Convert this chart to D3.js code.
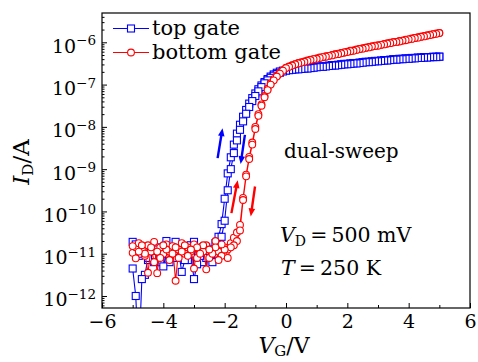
<!DOCTYPE html>
<html>
<head>
<meta charset="utf-8">
<script src="https://cdn.jsdelivr.net/npm/d3@7"></script>
<style>
  body { margin: 0; background: #fff; }
  text { font-family: "DejaVu Serif", serif; fill: #000; }
</style>
</head>
<body>
<div id="chart"></div>
<script>
// gate voltage steps of the sweep (V)
const vg = [-5.0,-4.9,-4.8,-4.7,-4.6,-4.5,-4.4,-4.3,-4.2,-4.1,-4.0,-3.9,-3.8,-3.7,-3.6,-3.5,-3.4,-3.3,-3.2,-3.1,
  -3.0,-2.9,-2.8,-2.7,-2.6,-2.5,-2.4,-2.3,-2.2,-2.1,-2.0,-1.9,-1.8,-1.7,-1.6,-1.5,-1.4,-1.3,-1.2,-1.1,
  -1.0,-0.9,-0.8,-0.7,-0.6,-0.5,-0.4,-0.3,-0.2,-0.1,0.0,0.1,0.2,0.3,0.4,0.5,0.6,0.7,0.8,0.9,
  1.0,1.1,1.2,1.3,1.4,1.5,1.6,1.7,1.8,1.9,2.0,2.1,2.2,2.3,2.4,2.5,2.6,2.7,2.8,2.9,
  3.0,3.1,3.2,3.3,3.4,3.5,3.6,3.7,3.8,3.9,4.0,4.1,4.2,4.3,4.4,4.5,4.6,4.7,4.8,4.9,5.0];

// log10(I_D / A), forward sweep (-5 -> 5) and backward sweep (5 -> -5), indexed like vg
const topFwd = [-10.72,-10.78,-11.05,-11.0,-10.9,-11.15,-10.95,-11.1,-10.85,-11.2,
  -10.9,-10.7,-11.05,-10.95,-10.72,-11.1,-10.9,-11.0,-11.15,-10.8,
  -10.72,-11.1,-10.95,-11.2,-10.85,-11.05,-10.9,-10.75,-10.6,-10.3,
  -9.7,-9.1,-8.72,-8.42,-8.16,-7.95,-7.76,-7.6,-7.45,-7.32,
  -7.21,-7.11,-7.02,-6.94,-6.87,-6.81,-6.76,-6.72,-6.69,-6.67,-6.66,
  -6.65,-6.64,-6.63,-6.63,-6.62,-6.61,-6.61,-6.60,-6.59,-6.58,
  -6.57,-6.57,-6.56,-6.55,-6.54,-6.54,-6.53,-6.52,-6.51,-6.51,
  -6.50,-6.49,-6.49,-6.48,-6.47,-6.46,-6.46,-6.45,-6.44,-6.44,
  -6.43,-6.42,-6.42,-6.41,-6.40,-6.40,-6.39,-6.39,-6.38,-6.38,
  -6.37,-6.37,-6.36,-6.36,-6.35,-6.35,-6.35,-6.34,-6.34,-6.34];
const topBwd = [-11.35,-12.0,-13.5,-11.6,-11.5,-11.1,-10.9,-11.2,-10.9,-11.05,
  -11.3,-11.0,-11.2,-10.85,-11.1,-10.95,-11.43,-11.15,-10.9,-11.0,
  -11.6,-11.25,-11.05,-10.85,-11.1,-10.95,-11.2,-11.0,-10.85,-10.6,
  -10.22,-9.5,-9.0,-8.62,-8.32,-8.07,-7.87,-7.69,-7.53,-7.39,
  -7.27,-7.16,-7.06,-6.97,-6.9,-6.84,-6.79,-6.75,-6.72,-6.69,-6.67,
  -6.66,-6.65,-6.64,-6.64,-6.63,-6.62,-6.62,-6.61,-6.60,-6.59,
  -6.58,-6.58,-6.57,-6.56,-6.55,-6.55,-6.54,-6.53,-6.52,-6.52,
  -6.51,-6.50,-6.50,-6.49,-6.48,-6.47,-6.47,-6.46,-6.45,-6.45,
  -6.44,-6.43,-6.43,-6.42,-6.41,-6.41,-6.40,-6.40,-6.39,-6.39,
  -6.38,-6.38,-6.37,-6.37,-6.36,-6.36,-6.35,-6.35,-6.35,-6.34];
const botFwd = [-10.98,-10.85,-10.75,-10.9,-11.05,-10.8,-10.95,-10.72,-11.46,-10.85,
  -11.0,-10.78,-10.95,-10.82,-11.64,-10.9,-10.75,-11.0,-10.85,-10.95,
  -10.78,-11.1,-10.85,-10.95,-10.8,-11.1,-10.9,-10.7,-10.95,-11.05,
  -10.85,-10.9,-10.75,-10.62,-10.5,-10.32,-9.68,-9.13,-8.71,-8.37,
  -8.0,-7.7,-7.47,-7.27,-7.1,-6.97,-6.87,-6.79,-6.72,-6.66,-6.6,
  -6.57,-6.54,-6.52,-6.49,-6.47,-6.45,-6.43,-6.41,-6.40,-6.38,
  -6.36,-6.35,-6.33,-6.32,-6.30,-6.28,-6.27,-6.25,-6.24,-6.22,
  -6.20,-6.19,-6.17,-6.16,-6.14,-6.13,-6.11,-6.10,-6.08,-6.07,
  -6.06,-6.04,-6.03,-6.01,-6.00,-5.99,-5.97,-5.96,-5.94,-5.93,
  -5.91,-5.90,-5.88,-5.87,-5.85,-5.84,-5.82,-5.81,-5.79,-5.78];
const botBwd = [-10.82,-11.11,-10.95,-10.8,-11.0,-11.45,-10.85,-11.2,-10.95,-11.1,
  -10.8,-10.9,-11.15,-11.0,-10.85,-11.1,-10.95,-10.8,-11.05,-10.9,
  -11.35,-10.85,-11.0,-10.8,-11.37,-10.9,-11.0,-10.85,-11.15,-10.78,
  -10.9,-11.1,-10.85,-10.8,-10.7,-10.45,-9.73,-9.17,-8.76,-8.42,
  -8.05,-7.74,-7.5,-7.3,-7.13,-7.0,-6.9,-6.81,-6.74,-6.67,-6.61,
  -6.58,-6.55,-6.52,-6.50,-6.48,-6.46,-6.44,-6.42,-6.40,-6.39,
  -6.37,-6.35,-6.34,-6.32,-6.31,-6.29,-6.28,-6.26,-6.24,-6.23,
  -6.21,-6.20,-6.18,-6.16,-6.15,-6.13,-6.12,-6.10,-6.09,-6.08,
  -6.06,-6.05,-6.03,-6.02,-6.00,-5.99,-5.98,-5.96,-5.95,-5.93,
  -5.92,-5.90,-5.89,-5.87,-5.86,-5.84,-5.83,-5.81,-5.80,-5.78];

const xMajor = [-6, -4, -2, 0, 2, 4, 6];
const xMinor = [-5, -3, -1, 1, 3, 5];
const yDecades = [-12, -11, -10, -9, -8, -7, -6];

// sweep-direction arrows, [V_G, log10 I] of tail and tip
const arrows = [
  { color: '#0000ff', from: [-2.23, -8.74], to: [-2.07, -8.03] },
  { color: '#0000ff', from: [-1.34, -8.19], to: [-1.48, -8.88] },
  { color: '#ff0000', from: [-1.78, -10.04], to: [-1.575, -9.26] },
  { color: '#ff0000', from: [-1.01, -9.41], to: [-1.15, -10.12] }
];

const W = 478, H = 362;
const x = d3.scaleLinear().domain([-6, 6]).range([102, 470]);
const y = d3.scaleLog().domain([Math.pow(10, -12.284), Math.pow(10, -5.307)]).range([308, 13]);
const [x0, x1] = x.range();
const [y0, y1] = y.range();

const svg = d3.select('#chart').append('svg')
    .attr('width', W)
    .attr('height', H);

svg.append('defs').append('clipPath').attr('id', 'plot')
  .append('rect')
    .attr('x', x0).attr('y', y1)
    .attr('width', x1 - x0).attr('height', y0 - y1);

const minus = d => d < 0 ? '\u2212' + Math.abs(d) : String(d);

// x axis (ticks inside)
const gx = svg.append('g')
    .attr('transform', `translate(0,${y0})`)
    .call(d3.axisBottom(x).tickValues(xMajor).tickSize(-5).tickSizeOuter(0).tickPadding(7).tickFormat(minus));
gx.select('.domain').remove();
gx.selectAll('text').attr('font-size', 19).attr('font-family', '"DejaVu Serif", serif');
gx.selectAll('line').attr('stroke-width', 1);

const gxm = svg.append('g')
    .attr('transform', `translate(0,${y0})`)
    .call(d3.axisBottom(x).tickValues(xMinor).tickSize(-3).tickSizeOuter(0).tickFormat(''));
gxm.select('.domain').remove();

// y axis, log decades plus minor ticks
const gy = svg.append('g')
    .attr('transform', `translate(${x0},0)`)
    .call(d3.axisLeft(y).tickValues(yDecades.map(e => Math.pow(10, e))).tickSize(-5).tickSizeOuter(0).tickFormat(''));
gy.select('.domain').remove();

const minorVals = [];
for (let e = -13; e <= -6; e++) {
  for (let k = 2; k <= 9; k++) {
    const v = k * Math.pow(10, e);
    if (v > y.domain()[0] && v < y.domain()[1]) minorVals.push(v);
  }
}
const gym = svg.append('g')
    .attr('transform', `translate(${x0},0)`)
    .call(d3.axisLeft(y).tickValues(minorVals).tickSize(-2.5).tickSizeOuter(0).tickFormat(''));
gym.select('.domain').remove();

const ylab = svg.append('g').selectAll('text')
  .data(yDecades)
  .enter().append('text')
    .attr('x', x0 - 6)
    .attr('y', d => y(Math.pow(10, d)) + 10.5)
    .attr('text-anchor', 'end')
    .attr('font-size', 19);
ylab.append('tspan').text('10');
ylab.append('tspan').attr('font-size', 13.5).attr('dy', -7.5).text(d => minus(d));

// data
const line = d3.line()
    .x(d => x(d[0]))
    .y(d => y(Math.pow(10, d[1])));

function sweep(fwd, bwd) {
  const a = vg.map((v, i) => [v, fwd[i]]);
  const b = vg.map((v, i) => [v, bwd[i]]).reverse();
  return a.concat(b);
}

const plot = svg.append('g').attr('clip-path', 'url(#plot)');

const topPts = sweep(topFwd, topBwd);
const botPts = sweep(botFwd, botBwd);

plot.append('path')
    .datum(topPts)
    .attr('d', line)
    .attr('fill', 'none')
    .attr('stroke', '#0000ff')
    .attr('stroke-width', 1.1);
plot.append('g').selectAll('rect')
  .data(topPts)
  .enter().append('rect')
    .attr('x', d => x(d[0]) - 3.5)
    .attr('y', d => y(Math.pow(10, d[1])) - 3.5)
    .attr('width', 7)
    .attr('height', 7)
    .attr('fill', '#fff')
    .attr('stroke', '#0000ff')
    .attr('stroke-width', 1.1);

plot.append('path')
    .datum(botPts)
    .attr('d', line)
    .attr('fill', 'none')
    .attr('stroke', '#ff0000')
    .attr('stroke-width', 1.1);
plot.append('g').selectAll('circle')
  .data(botPts)
  .enter().append('circle')
    .attr('cx', d => x(d[0]))
    .attr('cy', d => y(Math.pow(10, d[1])))
    .attr('r', 3.4)
    .attr('fill', '#fff')
    .attr('stroke', '#ff0000')
    .attr('stroke-width', 1.1);

// arrows
arrows.forEach(a => {
  const px0 = x(a.from[0]), py0 = y(Math.pow(10, a.from[1]));
  const px1 = x(a.to[0]), py1 = y(Math.pow(10, a.to[1]));
  const dx = px1 - px0, dy = py1 - py0, L = Math.hypot(dx, dy);
  const ux = dx / L, uy = dy / L;
  const hl = 8, hw = 3.3;
  const bx = px1 - ux * hl, by = py1 - uy * hl;
  svg.append('line')
      .attr('x1', px0).attr('y1', py0)
      .attr('x2', bx + ux).attr('y2', by + uy)
      .attr('stroke', a.color)
      .attr('stroke-width', 2.4);
  svg.append('polygon')
      .attr('points', [[px1, py1], [bx - uy * hw, by + ux * hw], [bx + uy * hw, by - ux * hw]].join(' '))
      .attr('fill', a.color);
});

// frame
svg.append('rect')
    .attr('x', x0).attr('y', y1)
    .attr('width', x1 - x0).attr('height', y0 - y1)
    .attr('fill', 'none')
    .attr('stroke', '#000')
    .attr('stroke-width', 1.2);

// legend
const legend = [
  { label: 'top gate', color: '#0000ff', shape: 'square', y: 28.5 },
  { label: 'bottom gate', color: '#ff0000', shape: 'circle', y: 52.5 }
];
legend.forEach(l => {
  svg.append('line')
      .attr('x1', 113).attr('x2', 149)
      .attr('y1', l.y).attr('y2', l.y)
      .attr('stroke', l.color).attr('stroke-width', 1.1);
  if (l.shape === 'square') {
    svg.append('rect')
        .attr('x', 131 - 3.5).attr('y', l.y - 3.5)
        .attr('width', 7).attr('height', 7)
        .attr('fill', '#fff').attr('stroke', l.color).attr('stroke-width', 1.1);
  } else {
    svg.append('circle')
        .attr('cx', 131).attr('cy', l.y).attr('r', 3.4)
        .attr('fill', '#fff').attr('stroke', l.color).attr('stroke-width', 1.1);
  }
  svg.append('text')
      .attr('x', 152).attr('y', l.y + 6)
      .attr('font-size', 21)
      .text(l.label);
});

// annotations
svg.append('text')
    .attr('x', 284).attr('y', 158)
    .attr('font-size', 20)
    .text('dual-sweep');

const vd = svg.append('text').attr('x', 280).attr('y', 242).attr('font-size', 20.5);
vd.append('tspan').attr('font-style', 'italic').text('V');
vd.append('tspan').attr('font-size', 14).attr('dy', 4).text('D');
vd.append('tspan').attr('dy', -4).text('\u2009=\u2009500 mV');

const tt = svg.append('text').attr('x', 281).attr('y', 275).attr('font-size', 20.5);
tt.append('tspan').attr('font-style', 'italic').text('T');
tt.append('tspan').text('\u2009=\u2009250 K');

// axis titles
const xt = svg.append('text')
    .attr('x', 284).attr('y', 353)
    .attr('text-anchor', 'middle')
    .attr('font-size', 22);
xt.append('tspan').attr('font-style', 'italic').text('V');
xt.append('tspan').attr('font-size', 15).attr('dy', 3).text('G');
xt.append('tspan').attr('dy', -3).text('/V');

const yt = svg.append('text')
    .attr('transform', 'translate(29,162) rotate(-90)')
    .attr('text-anchor', 'middle')
    .attr('font-size', 23);
yt.append('tspan').attr('font-style', 'italic').text('I');
yt.append('tspan').attr('font-size', 15).attr('dy', 4).text('D');
yt.append('tspan').attr('dy', -4).text('/A');
</script>
</body>
</html>
